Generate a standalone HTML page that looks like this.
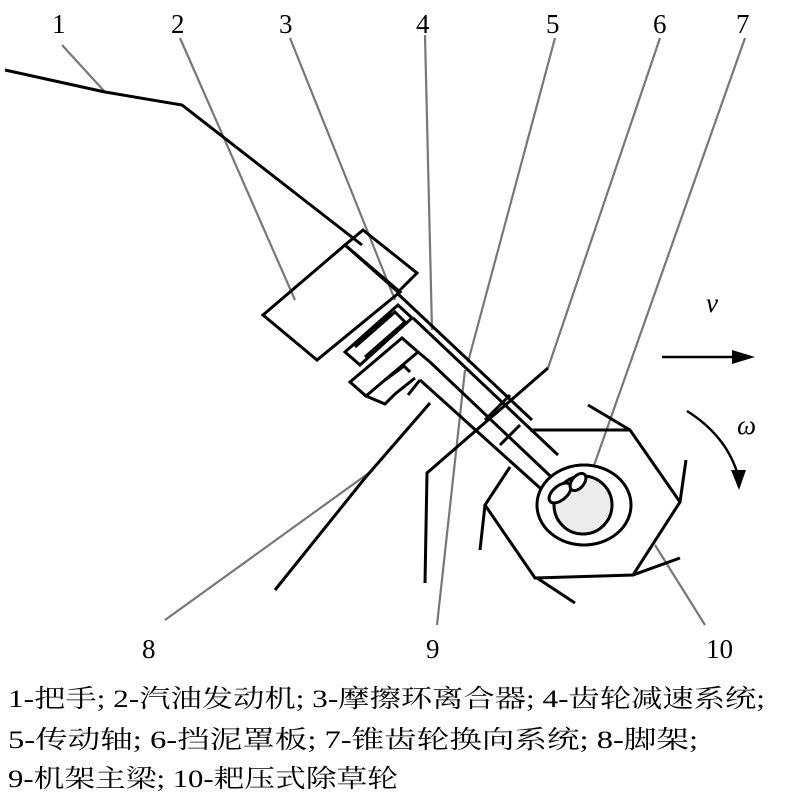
<!DOCTYPE html>
<html><head><meta charset="utf-8"><style>
html,body{margin:0;padding:0;background:#fff;}
svg{display:block;}
text{font-family:"Liberation Serif","Noto Serif CJK SC",serif;fill:#000;}
</style></head><body>
<svg width="800" height="800" viewBox="0 0 800 800" xmlns="http://www.w3.org/2000/svg">
<g stroke="#777" stroke-width="2.2" fill="none">
<line x1="62" y1="45" x2="105" y2="92"/>
<line x1="180" y1="38" x2="295" y2="300"/>
<line x1="290" y1="38" x2="395" y2="300"/>
<line x1="425" y1="35" x2="432" y2="330"/>
<line x1="555" y1="38" x2="468" y2="362"/>
<line x1="660" y1="38" x2="548" y2="368"/>
<line x1="745" y1="38" x2="580" y2="505"/>
<line x1="165" y1="620" x2="373" y2="470"/>
<line x1="437" y1="625" x2="465" y2="370"/>
<line x1="705" y1="625" x2="655" y2="545"/>
</g>
<g stroke="#000" stroke-width="3" fill="none" stroke-linejoin="miter">
<polyline points="5,70 105,92 182,105 362,245"/>
<polygon points="345,245 363,230 417,273 398,292"/>
<polygon points="263,315 345,245 400,292 317,360"/>
<polygon points="345,352 398,305 412,318 360,365"/>
<polyline points="355,347 395,312 405,322 365,357"/>
<polyline points="362,340 392,314"/>
<polygon points="350,382 402,338 418,352 366,396"/>
<polyline points="366,396 385,404 395,394 415,378"/>
<polyline points="385,380 404,366 410,372"/>
<line x1="397" y1="293" x2="532" y2="420"/>
<line x1="413" y1="318" x2="558" y2="455"/>
<line x1="430" y1="362" x2="565" y2="490"/>
<line x1="420" y1="380" x2="550" y2="497"/>
<line x1="418" y1="352" x2="430" y2="362"/>
<line x1="408" y1="395" x2="420" y2="380"/>
<line x1="485" y1="420" x2="510" y2="395"/>
<line x1="500" y1="445" x2="520" y2="425"/>
<polyline points="510,467 485,505 535,578 633,575 680,502 630,430 530,430"/>
<line x1="630" y1="430" x2="588" y2="405"/>
<line x1="680" y1="502" x2="686" y2="460"/>
<line x1="633" y1="575" x2="680" y2="558"/>
<line x1="537" y1="578" x2="575" y2="603"/>
<line x1="485" y1="505" x2="480" y2="550"/>
<ellipse cx="584" cy="505" rx="47" ry="40" fill="#fff"/>
<circle cx="583" cy="505" r="29" fill="#ececec"/>
<ellipse cx="560" cy="493" rx="13" ry="7" transform="rotate(-40 560 493)" fill="#fff"/>
<ellipse cx="578" cy="482" rx="10" ry="6" transform="rotate(-50 578 482)" fill="#fff"/>
<polyline points="548,368 427,473 425,583"/>
<polyline points="430,403 365,478 275,590"/>
<line x1="662" y1="357" x2="735" y2="357" stroke-width="2.5"/>
<path d="M687,411 Q725,435 737,472" stroke-width="2.5"/>
</g>
<polygon points="732,350 755,357 732,364" fill="#000"/>
<polygon points="731,470 746,470 739,490" fill="#000"/>
<g font-size="27">
<text x="52" y="33">1</text>
<text x="171" y="33">2</text>
<text x="279" y="33">3</text>
<text x="416" y="33">4</text>
<text x="546" y="33">5</text>
<text x="653" y="33">6</text>
<text x="736" y="33">7</text>
<text x="142" y="658">8</text>
<text x="426" y="658">9</text>
<text x="706" y="658">10</text>
<text x="706" y="312" font-style="italic">v</text>
<text x="737" y="434" font-style="italic">ω</text>
</g>
<g font-size="25">
<text x="8" y="707" textLength="757" lengthAdjust="spacingAndGlyphs">1-把手; 2-汽油发动机; 3-摩擦环离合器; 4-齿轮减速系统;</text>
<text x="8" y="748" textLength="690" lengthAdjust="spacingAndGlyphs">5-传动轴; 6-挡泥罩板; 7-锥齿轮换向系统; 8-脚架;</text>
<text x="8" y="787" textLength="390" lengthAdjust="spacingAndGlyphs">9-机架主梁; 10-耙压式除草轮</text>
</g>
</svg>
</body></html>
